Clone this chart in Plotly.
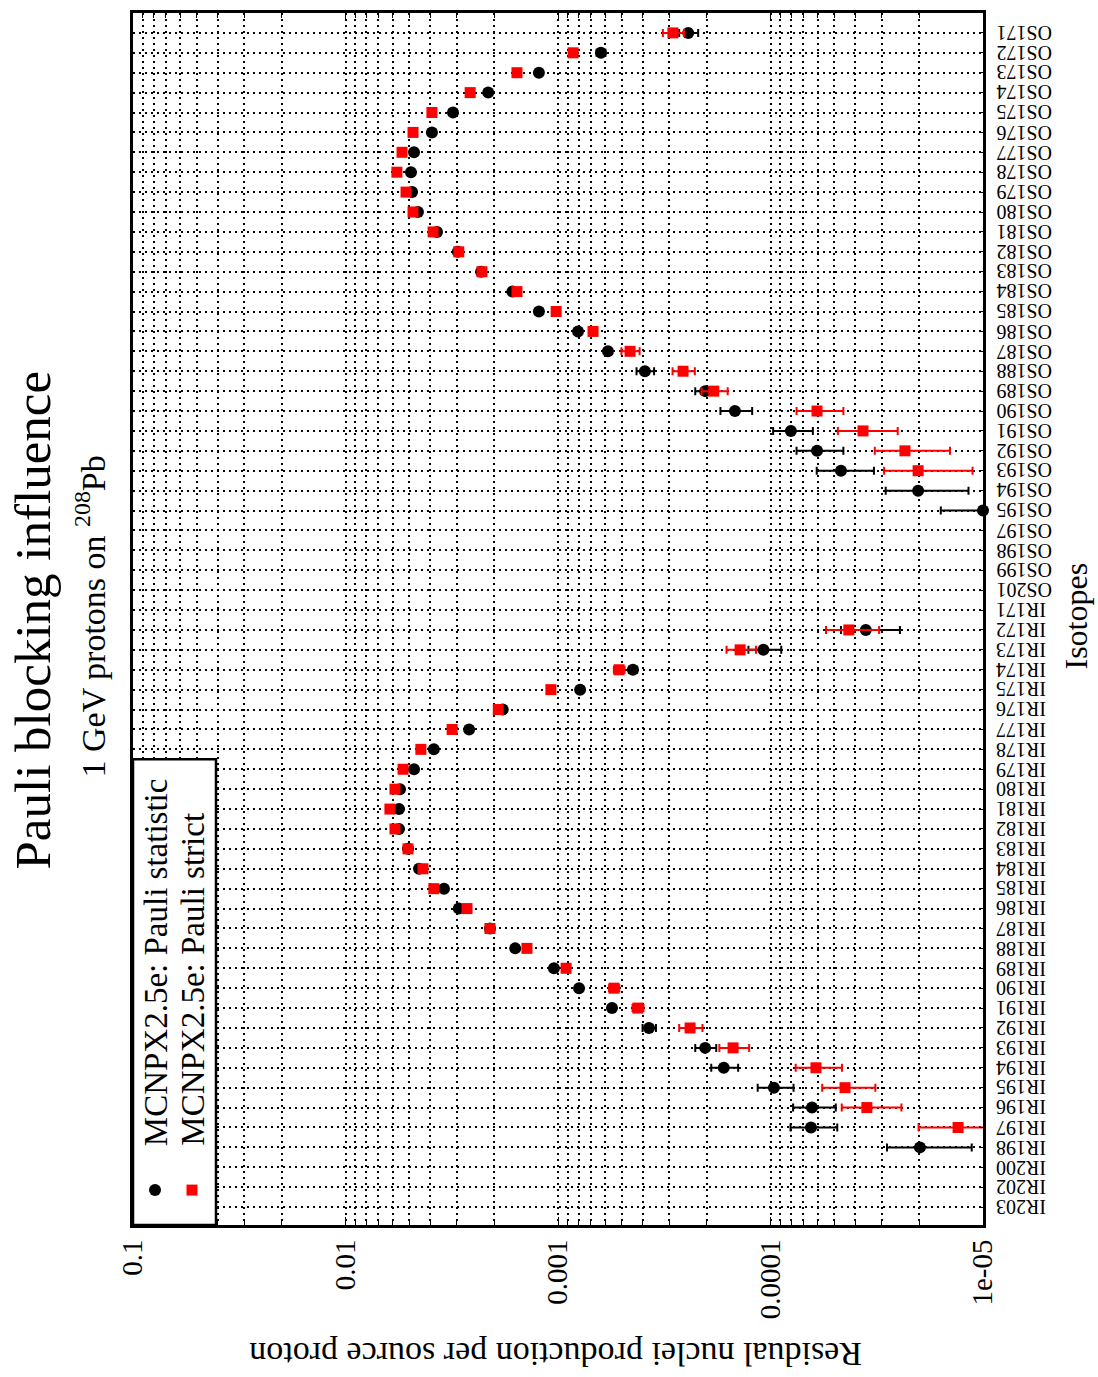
import plotly.graph_objects as go

# Isotopes, listed from top of the chart to the bottom
isotopes = (["OS%d" % a for a in range(171, 196)] + ["OS197", "OS198", "OS199", "OS201"]
            + ["IR%d" % a for a in range(171, 199)] + ["IR200", "IR202", "IR203"])

# MCNPX2.5e: Pauli statistic (black circles)
stat_vals = [2.44e-4, 6.28e-4, 1.23e-3, 2.13e-3, 3.12e-3, 3.92e-3, 4.76e-3, 4.92e-3, 4.86e-3, 4.56e-3,
             3.71e-3, 2.96e-3, 2.30e-3, 1.64e-3, 1.23e-3, 8.05e-4, 5.82e-4, 3.90e-4, 2.03e-4, 1.47e-4,
             8.02e-5, 6.04e-5, 4.66e-5, 2.02e-5, 1.0e-5, None, None, None, None,
             None, 3.56e-5, 1.08e-4, 4.44e-4, 7.87e-4, 1.82e-3, 2.62e-3, 3.84e-3, 4.76e-3, 5.54e-3,
             5.60e-3, 5.60e-3, 5.08e-3, 4.51e-3, 3.44e-3, 2.93e-3, 2.09e-3, 1.59e-3, 1.045e-3, 7.96e-4,
             5.57e-4, 3.73e-4, 2.03e-4, 1.66e-4, 9.64e-5, 6.38e-5, 6.45e-5, 1.98e-5, None, None, None]
stat_err_up = [0.25e-4, 0.30e-4, 0.03e-3, 0.03e-3, 0.04e-3, 0.04e-3, 0.04e-3, 0.04e-3, 0.04e-3, 0.04e-3,
               0.04e-3, 0.03e-3, 0.03e-3, 0.03e-3, 0.03e-3, 0.2e-4, 0.2e-4, 0.37e-4, 0.23e-4, 0.25e-4,
               1.7e-5, 1.5e-5, 1.4e-5, 0.85e-5, 0.58e-5, None, None, None, None,
               None, 1.1e-5, 1.9e-5, 0.2e-4, 0.2e-4, 0.03e-3, 0.03e-3, 0.04e-3, 0.04e-3, 0.04e-3,
               0.04e-3, 0.04e-3, 0.04e-3, 0.04e-3, 0.03e-3, 0.03e-3, 0.03e-3, 0.03e-3, 0.02e-3, 0.2e-4,
               0.2e-4, 0.27e-4, 0.23e-4, 0.24e-4, 1.85e-5, 1.45e-5, 1.6e-5, 0.85e-5, None, None, None]
stat_err_down = [0.25e-4, 0.30e-4, 0.03e-3, 0.03e-3, 0.04e-3, 0.04e-3, 0.04e-3, 0.04e-3, 0.04e-3, 0.04e-3,
                 0.04e-3, 0.03e-3, 0.03e-3, 0.03e-3, 0.03e-3, 0.2e-4, 0.2e-4, 0.37e-4, 0.23e-4, 0.25e-4,
                 1.7e-5, 1.5e-5, 1.4e-5, 0.85e-5, 0.0, None, None, None, None,
                 None, 1.1e-5, 1.9e-5, 0.2e-4, 0.2e-4, 0.03e-3, 0.03e-3, 0.04e-3, 0.04e-3, 0.04e-3,
                 0.04e-3, 0.04e-3, 0.04e-3, 0.04e-3, 0.03e-3, 0.03e-3, 0.03e-3, 0.03e-3, 0.02e-3, 0.2e-4,
                 0.2e-4, 0.27e-4, 0.23e-4, 0.24e-4, 1.85e-5, 1.45e-5, 1.6e-5, 0.85e-5, None, None, None]

# MCNPX2.5e: Pauli strict (red squares)
strict_vals = [2.88e-4, 8.49e-4, 1.56e-3, 2.59e-3, 3.92e-3, 4.81e-3, 5.42e-3, 5.73e-3, 5.19e-3, 4.81e-3,
               3.87e-3, 2.93e-3, 2.28e-3, 1.56e-3, 1.02e-3, 6.84e-4, 4.58e-4, 2.58e-4, 1.85e-4, 6.04e-5,
               3.67e-5, 2.33e-5, 2.02e-5, None, None, None, None, None, None,
               None, 4.28e-5, 1.39e-4, 5.16e-4, 1.08e-3, 1.91e-3, 3.15e-3, 4.42e-3, 5.36e-3, 5.85e-3,
               6.18e-3, 5.85e-3, 5.08e-3, 4.32e-3, 3.84e-3, 2.68e-3, 2.09e-3, 1.40e-3, 9.16e-4, 5.45e-4,
               4.21e-4, 2.39e-4, 1.50e-4, 6.11e-5, 4.46e-5, 3.52e-5, 1.31e-5, None, None, None, None]
strict_err = [0.33e-4, 0.3e-4, 0.03e-3, 0.03e-3, 0.04e-3, 0.05e-3, 0.05e-3, 0.05e-3, 0.05e-3, 0.05e-3,
              0.04e-3, 0.03e-3, 0.03e-3, 0.03e-3, 0.03e-3, 0.2e-4, 0.45e-4, 0.31e-4, 0.26e-4, 1.5e-5,
              1.15e-5, 0.9e-5, 0.9e-5, None, None, None, None, None, None,
              None, 1.2e-5, 2.2e-5, 0.3e-4, 0.03e-3, 0.03e-3, 0.03e-3, 0.04e-3, 0.05e-3, 0.05e-3,
              0.05e-3, 0.05e-3, 0.05e-3, 0.04e-3, 0.04e-3, 0.03e-3, 0.03e-3, 0.03e-3, 0.02e-3, 0.3e-4,
              0.25e-4, 0.3e-4, 0.24e-4, 1.5e-5, 1.25e-5, 1.1e-5, 0.7e-5, None, None, None, None]

major_ticks = [0.1, 0.01, 0.001, 0.0001, 0.00001]
major_labels = ["0.1", "0.01", "0.001", "0.0001", "1e-05"]
minor_ticks = [k * 10.0 ** n for n in range(-5, -1) for k in range(2, 10)]

FONT = "Liberation Serif, Times New Roman, serif"
W, H = 1098, 1377
L, R, T, B = 133, 983, 10, 1225

def px(x):
    return (x - L) / (R - L)

def py(y):
    return (B - y) / (B - T)

fig = go.Figure()
fig.add_trace(go.Scatter(
    x=stat_vals, y=isotopes, mode="markers", name="MCNPX2.5e: Pauli statistic",
    marker=dict(symbol="circle", size=12, color="black"),
    error_x=dict(type="data", symmetric=False, array=stat_err_up, arrayminus=stat_err_down,
                 color="black", thickness=2, width=4),
    cliponaxis=False, showlegend=False))
fig.add_trace(go.Scatter(
    x=strict_vals, y=isotopes, mode="markers", name="MCNPX2.5e: Pauli strict",
    marker=dict(symbol="square", size=11, color="#ff0000"),
    error_x=dict(type="data", array=strict_err, color="#ff0000", thickness=2, width=4),
    showlegend=False))

grid_dash = "2px,4px"
fig.update_layout(
    width=W, height=H,
    margin=dict(l=L, r=W - R, t=T, b=H - B, pad=0),
    paper_bgcolor="white", plot_bgcolor="white",
    font=dict(family=FONT, color="black"),
    xaxis=dict(
        type="log", range=[-1, -5], autorange=False,
        tickvals=major_ticks, ticktext=major_labels, tickangle=-90,
        tickfont=dict(size=29, family=FONT), ticks="inside", ticklen=8, tickcolor="black",
        showgrid=True, gridcolor="black", gridwidth=2.2, griddash=grid_dash,
        minor=dict(tickvals=minor_ticks, ticks="inside", ticklen=5, tickcolor="black",
                   showgrid=True, gridcolor="black", gridwidth=2.2, griddash=grid_dash),
        showline=True, linecolor="black", linewidth=3, mirror="ticks", zeroline=False,
    ),
    yaxis=dict(
        type="category", categoryorder="array", categoryarray=isotopes[::-1],
        tickmode="array", tickvals=isotopes,
        range=[-0.9, 60.0], autorange=False, side="right", showticklabels=False,
        ticks="inside", ticklen=4, tickcolor="black",
        showgrid=True, gridcolor="black", gridwidth=2.2, griddash=grid_dash,
        showline=True, linecolor="black", linewidth=3, mirror=True, zeroline=False,
    ),
)

# Isotope tick labels, upside down to the right of the frame
for iso in isotopes:
    fig.add_annotation(text=iso, xref="paper", yref="y", x=px(994), y=iso,
                       xanchor="left", yanchor="middle", textangle=180, showarrow=False,
                       font=dict(size=20, family=FONT))

# Legend box (rotated like the rest of the chart)
fig.add_shape(type="rect", xref="paper", yref="paper", x0=0, x1=px(216), y0=0, y1=py(758),
              line=dict(color="black", width=2.5), fillcolor="white", layer="above")
fig.add_shape(type="circle", xref="paper", yref="paper", xsizemode="pixel", ysizemode="pixel",
              xanchor=px(155), yanchor=py(1190), x0=-6, x1=6, y0=-6, y1=6,
              line=dict(width=0), fillcolor="black", layer="above")
fig.add_shape(type="rect", xref="paper", yref="paper", xsizemode="pixel", ysizemode="pixel",
              xanchor=px(192), yanchor=py(1190), x0=-5.5, x1=5.5, y0=-5.5, y1=5.5,
              line=dict(width=0), fillcolor="#ff0000", layer="above")
fig.add_annotation(text="MCNPX2.5e: Pauli statistic", xref="paper", yref="paper",
                   x=px(156), y=py(1148), xanchor="center", yanchor="bottom", textangle=-90,
                   showarrow=False, font=dict(size=33, family=FONT))
fig.add_annotation(text="MCNPX2.5e: Pauli strict", xref="paper", yref="paper",
                   x=px(193), y=py(1148), xanchor="center", yanchor="bottom", textangle=-90,
                   showarrow=False, font=dict(size=33, family=FONT))

# Titles
fig.add_annotation(text="Pauli blocking influence", xref="paper", yref="paper",
                   x=px(33), y=py(619), xanchor="center", yanchor="middle", textangle=-90,
                   showarrow=False, font=dict(size=51, family=FONT))
fig.add_annotation(text="1 GeV protons on <sup>208</sup>Pb", xref="paper", yref="paper",
                   x=px(90), y=py(615), xanchor="center", yanchor="middle", textangle=-90,
                   showarrow=False, font=dict(size=34, family=FONT))
fig.add_annotation(text="Residual nuclei production per source proton", xref="paper", yref="paper",
                   x=px(556), y=py(1355), xanchor="center", yanchor="middle", textangle=180,
                   showarrow=False, font=dict(size=34, family=FONT))
fig.add_annotation(text="Isotopes", xref="paper", yref="paper",
                   x=px(1076), y=py(615), xanchor="center", yanchor="middle", textangle=-90,
                   showarrow=False, font=dict(size=32, family=FONT))

fig.write_html("out.html")
